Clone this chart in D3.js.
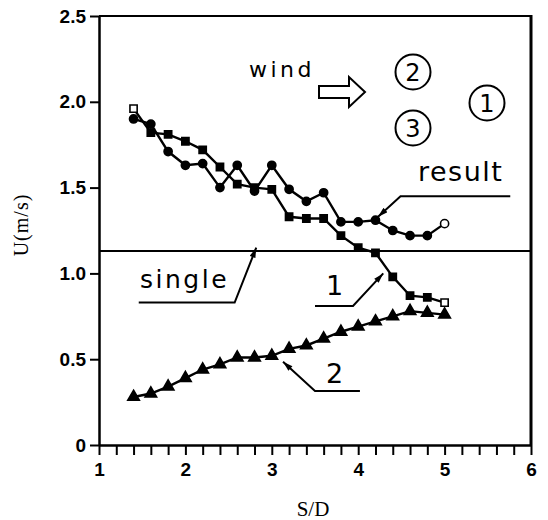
<!DOCTYPE html>
<html><head><meta charset="utf-8">
<script src="https://cdn.jsdelivr.net/npm/d3@7"></script>
<style>
html,body{margin:0;padding:0;background:#fff;}
svg{display:block;}
</style></head>
<body>
<script>
// ---- data ----
const sd = [1.4,1.6,1.8,2.0,2.2,2.4,2.6,2.8,3.0,3.2,3.4,3.6,3.8,4.0,4.2,4.4,4.6,4.8,5.0];
const tube1 = [1.96,1.82,1.81,1.77,1.72,1.62,1.52,1.50,1.49,1.33,1.32,1.32,1.22,1.15,1.12,0.98,0.87,0.86,0.83];
const tube2 = [0.28,0.30,0.34,0.39,0.44,0.47,0.51,0.51,0.52,0.56,0.58,0.62,0.66,0.69,0.72,0.75,0.78,0.77,0.76];
const resultVals = [1.90,1.87,1.71,1.63,1.64,1.50,1.63,1.48,1.63,1.49,1.42,1.47,1.30,1.30,1.31,1.25,1.22,1.22,1.29];
const singleVal = 1.13;
const xTicks = [1,2,3,4,5,6];
const yTicks = [0,0.5,1.0,1.5,2.0,2.5];
const yTickLabels = ["0","0.5","1.0","1.5","2.0","2.5"];

const W = 548, H = 520;
const svg = d3.select("body").append("svg").attr("width",W).attr("height",H);
svg.append("rect").attr("width",W).attr("height",H).attr("fill","#fff");

const x = d3.scaleLinear().domain([1,6]).range([99,531]);
const y = d3.scaleLinear().domain([0,2.5]).range([445,16]);

// frame
svg.append("line").attr("x1",x(1)).attr("x2",x(6)).attr("y1",y(2.5)).attr("y2",y(2.5)).attr("stroke","#000").attr("stroke-width",2);
svg.append("line").attr("x1",x(6)).attr("x2",x(6)).attr("y1",y(2.5)-1).attr("y2",y(0)).attr("stroke","#000").attr("stroke-width",3);

const tickFont = "'Liberation Sans',Arial,sans-serif";
// x axis
const minor = d3.range(10,61,2).map(v=>v/10);
const xAxis = d3.axisBottom(x).tickValues(minor).tickSize(10).tickSizeOuter(0)
  .tickFormat(d => xTicks.includes(Math.round(d*10)/10) ? String(Math.round(d)) : "");
const gx = svg.append("g").attr("transform",`translate(0,${y(0)})`).call(xAxis);
gx.select(".domain").attr("stroke-width",2.5);
gx.selectAll(".tick line").attr("stroke-width",2);
gx.selectAll(".tick text").attr("font-family",tickFont)
  .attr("font-weight","bold").attr("font-size",19).attr("y",31).attr("dy",0);

// y axis
const yAxis = d3.axisLeft(y).tickValues(yTicks).tickSize(9).tickSizeOuter(0)
  .tickFormat((d,i)=>yTickLabels[i]);
const gy = svg.append("g").attr("transform",`translate(${x(1)},0)`).call(yAxis);
gy.select(".domain").attr("stroke-width",2.5);
gy.selectAll(".tick line").attr("stroke-width",2);
gy.selectAll(".tick text").attr("font-family",tickFont)
  .attr("font-weight","bold").attr("font-size",19).attr("x",-13);

// axis titles
const serif = "'Liberation Serif','Times New Roman',serif";
svg.append("text").attr("x",313).attr("y",516).attr("text-anchor","middle")
  .attr("font-family",serif).attr("font-size",21).text("S/D");
svg.append("text").attr("transform","translate(28,225) rotate(-90)").attr("text-anchor","middle")
  .attr("font-family",serif).attr("font-size",20).attr("letter-spacing",1).text("U(m/s)");

// single line
svg.append("line").attr("x1",x(1)).attr("x2",x(6)).attr("y1",y(singleVal)).attr("y2",y(singleVal))
  .attr("stroke","#000").attr("stroke-width",2);

// series
const line = d3.line().x((d,i)=>x(sd[i])).y(d=>y(d));
function drawSeries(vals, sym, size, openIdx){
  svg.append("path").attr("d",line(vals)).attr("fill","none").attr("stroke","#000").attr("stroke-width",2.4);
  svg.append("g").selectAll("path").data(vals).join("path")
    .attr("transform",(d,i)=>`translate(${x(sd[i])},${y(d)})`)
    .attr("d",d3.symbol().type(sym).size(size))
    .attr("fill",(d,i)=> openIdx.includes(i) ? "#fff" : "#000")
    .attr("stroke","#000").attr("stroke-width",1.6);
}
drawSeries(tube2, d3.symbolTriangle, 58, []);
drawSeries(resultVals, d3.symbolCircle, 52, [resultVals.length-1]);
drawSeries(tube1, d3.symbolSquare, 52, [0, tube1.length-1]);

// arrow marker
const defs = svg.append("defs");
defs.append("marker").attr("id","ah").attr("viewBox","0 0 10 6").attr("refX",10).attr("refY",3)
  .attr("markerWidth",11).attr("markerHeight",6).attr("markerUnits","userSpaceOnUse").attr("orient","auto")
  .append("path").attr("d","M0,0L10,3L0,6Z").attr("fill","#000");

function leader(pts){
  svg.append("path").attr("d",d3.line().x(p=>x(p[0])).y(p=>y(p[1]))(pts))
    .attr("fill","none").attr("stroke","#000").attr("stroke-width",2).attr("marker-end","url(#ah)");
}
leader([[5.76,1.45],[4.49,1.45],[4.23,1.33]]);
leader([[1.46,0.83],[2.57,0.83],[2.82,1.15]]);
leader([[3.50,0.81],[3.94,0.81],[4.29,1.00]]);
leader([[4.02,0.315],[3.50,0.315],[3.13,0.485]]);

const sans = "'DejaVu Sans',Verdana,sans-serif";
function label(txt, px, py, fs, ls){
  svg.append("text").attr("x",px).attr("y",py).attr("font-family",sans).attr("font-size",fs)
    .attr("letter-spacing",ls).text(txt);
}
label("result", 418, 181, 27, 1.5);
label("single", 140, 288, 25, 2.5);
label("wind", 249, 77, 22, 3.5);
label("1", 326, 295, 27, 0);
label("2", 326, 383, 27, 0);

// wind arrow
const ax0 = 319, ay = 92;
svg.append("path").attr("d",`M${ax0},${ay-6}H${ax0+30}V${ay-15}L${ax0+46},${ay}L${ax0+30},${ay+15}V${ay+6}H${ax0}Z`)
  .attr("fill","#fff").attr("stroke","#000").attr("stroke-width",2);

// tube circles
const tubes = [["2",413,72],["1",487,103],["3",413,128]];
tubes.forEach(t=>{
  svg.append("circle").attr("cx",t[1]).attr("cy",t[2]).attr("r",17.5).attr("fill","none").attr("stroke","#000").attr("stroke-width",2);
  svg.append("text").attr("x",t[1]).attr("y",t[2]+8.5).attr("text-anchor","middle").attr("font-family",sans)
    .attr("font-size",24).text(t[0]);
});
</script>
</body></html>
